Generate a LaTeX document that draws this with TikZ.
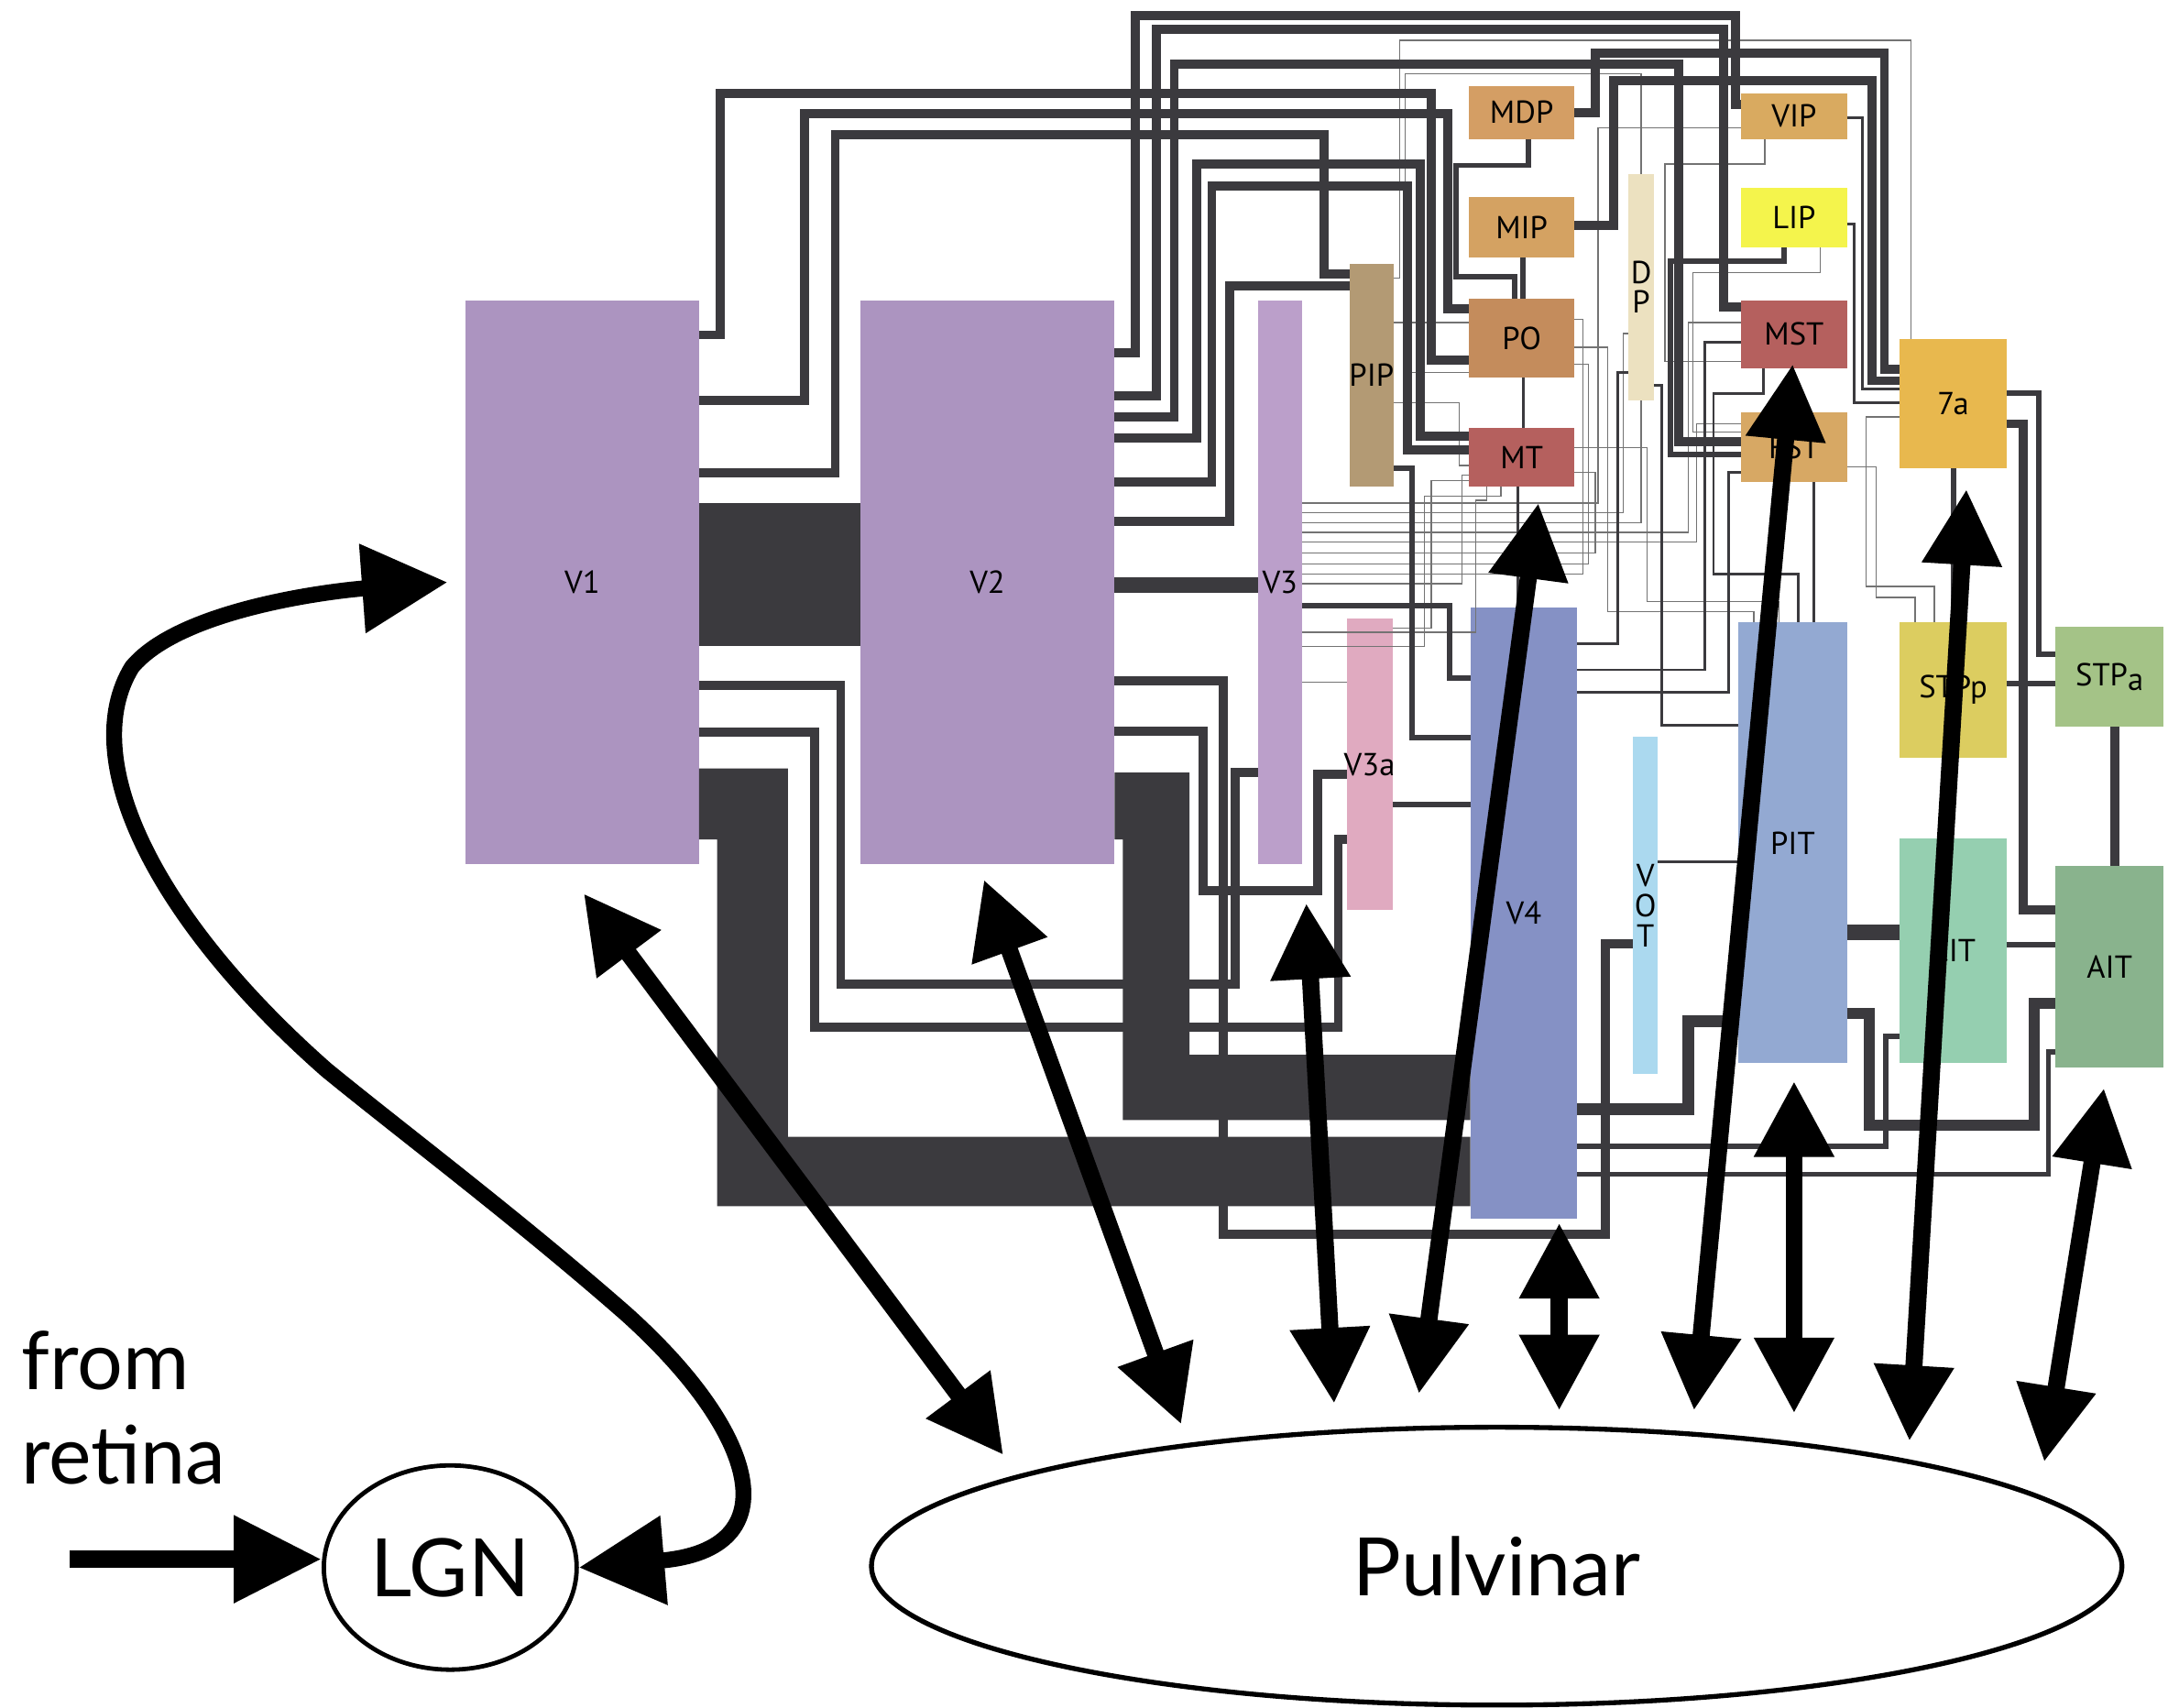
\documentclass[tikz,border=0pt]{standalone}
\usepackage{fontspec}
\setmainfont{PT Sans}
\newfontfamily\gill{Lato}
\usetikzlibrary{shapes.geometric,arrows.meta}

\definecolor{wire}{HTML}{3B3A3E}
\definecolor{cV1}{HTML}{AC94C0}
\definecolor{cV3}{HTML}{BB9FCA}
\definecolor{cPIP}{HTML}{B39A74}
\definecolor{cV3a}{HTML}{E0AAC0}
\definecolor{cMDP}{HTML}{D49E64}
\definecolor{cMIP}{HTML}{D4A262}
\definecolor{cPO}{HTML}{C48C5C}
\definecolor{cMT}{HTML}{B5605E}
\definecolor{cDP}{HTML}{ECE1C0}
\definecolor{cVIP}{HTML}{D9AA60}
\definecolor{cLIP}{HTML}{F4F44C}
\definecolor{cFST}{HTML}{D7A864}
\definecolor{c7a}{HTML}{E8B84E}
\definecolor{cV4}{HTML}{8591C5}
\definecolor{cVOT}{HTML}{ABD9EF}
\definecolor{cPIT}{HTML}{93A9D2}
\definecolor{cSTPp}{HTML}{DCCD60}
\definecolor{cSTPa}{HTML}{A4C387}
\definecolor{cCIT}{HTML}{95CFB0}
\definecolor{cAIT}{HTML}{89B38D}

\newcommand{\lbl}[1]{\makebox[0pt]{#1}}

\begin{document}
\begin{tikzpicture}[x=0.02cm,y=-0.02cm,
  area/.style={inner sep=0pt,outer sep=0pt,font=\fontsize{13}{13.5}\selectfont},
  band/.style={line width=6.5pt,wire},
  thk/.style={line width=3.7pt,wire,line join=miter},
  mid/.style={line width=2.2pt,wire,line join=miter},
  thn/.style={line width=1.1pt,wire,line join=miter},
  hair/.style={line width=0.5pt,black!55},
  pv/.style={line width=7pt,>={Triangle[length=31pt,width=31pt]},<->},
  lgn/.style={line width=6.5pt,>={Triangle[length=35pt,width=35pt]},<->},
  ret/.style={line width=7.4pt,>={Triangle[length=36pt,width=34pt]},->},
  big/.style={font=\gill\fontsize{33}{38}\selectfont}]
\useasboundingbox (0,0) rectangle (1568,1229);

\node[area,fill=cV1,minimum width=3.36cm,minimum height=8.12cm] (V1) at (419,419) {V1};
\node[area,fill=cV1,minimum width=3.66cm,minimum height=8.12cm] (V2) at (710.5,419) {V2};
\node[area,fill=cV3,minimum width=0.64cm,minimum height=8.12cm] (V3) at (921,419) {\lbl{V3}};
\node[area,fill=cPIP,minimum width=0.64cm,minimum height=3.2cm] (PIP) at (987,270) {\lbl{PIP}};
\node[area,fill=cV3a,minimum width=0.66cm,minimum height=4.2cm] (V3a) at (985.5,550) {\lbl{V3a}};
\node[area,fill=cMDP,minimum width=1.52cm,minimum height=0.76cm] (MDP) at (1095,81) {MDP};
\node[area,fill=cMIP,minimum width=1.52cm,minimum height=0.86cm] (MIP) at (1095,163.5) {MIP};
\node[area,fill=cPO,minimum width=1.52cm,minimum height=1.14cm] (PO) at (1095,243.5) {PO};
\node[area,fill=cMT,minimum width=1.52cm,minimum height=0.84cm] (MT) at (1095,329) {MT};
\node[area,fill=cDP,minimum width=0.36cm,minimum height=3.26cm] (DP) at (1181,206.5) {\lbl{\shortstack{D\\P}}};
\node[area,fill=cVIP,minimum width=1.52cm,minimum height=0.66cm] (VIP) at (1291,83.5) {VIP};
\node[area,fill=cLIP,minimum width=1.52cm,minimum height=0.86cm] (LIP) at (1291,156.5) {LIP};
\node[area,fill=cMT,minimum width=1.52cm,minimum height=0.98cm] (MST) at (1291,240.5) {MST};
\node[area,fill=cFST,minimum width=1.52cm,minimum height=1cm] (FST) at (1291,322) {FST};
\node[area,fill=c7a,minimum width=1.54cm,minimum height=1.86cm] (a7) at (1405.5,290.5) {7a};
\node[area,fill=cV4,minimum width=1.54cm,minimum height=8.8cm] (V4) at (1096.5,657) {V4};
\node[area,fill=cVOT,minimum width=0.36cm,minimum height=4.86cm] (VOT) at (1184,651.5) {\lbl{\shortstack{V\\O\\T}}};
\node[area,fill=cPIT,minimum width=1.56cm,minimum height=6.34cm] (PIT) at (1290,606.5) {PIT};
\node[area,fill=cSTPp,minimum width=1.54cm,minimum height=1.94cm] (STPp) at (1405.5,496.5) {STPp};
\node[area,fill=cSTPa,minimum width=1.56cm,minimum height=1.44cm] (STPa) at (1518,487) {STP\raisebox{-0.3ex}{a}};
\node[area,fill=cCIT,minimum width=1.54cm,minimum height=3.24cm] (CIT) at (1405.5,684) {CIT};
\node[area,fill=cAIT,minimum width=1.56cm,minimum height=2.9cm] (AIT) at (1518,695.5) {AIT};

% fine mesh
\draw[hair] (V3.east|-0,362) -| (1150,92) -- (VIP.west|-0,92);
\draw[hair] (V3.east|-0,369) -| (1168,240) -- (DP.west|-0,240);
\draw[hair] (V3.east|-0,376) -| (DP.south);
\draw[hair] (V3.east|-0,383) -| (1215,232) -- (MST.west|-0,232);
\draw[hair] (V3.east|-0,390) -| (1221,305) -- (FST.west|-0,305);
\draw[hair] (V3.east|-0,398) -| (1148,340) -- (MT.east|-0,340);
\draw[hair] (V3.east|-0,406) -| (1143,262) -- (PO.east|-0,262);
\draw[hair] (V3.east|-0,413) -| (1139,230) -- (PO.east|-0,230);
\draw[hair] (V3.east|-0,420) -| (1052,342) -- (MT.west|-0,342);
\draw[hair] (V3.east|-0,455) -| (1062,360) -| (MT.south -| 1070,0);
\draw[hair] (V3.east|-0,465) -| (1025,357) -| (MT.south -| 1080,0);
\draw[hair] (V3a.east|-0,452) -| (1030,346) -- (MT.west|-0,346);
\draw[hair] (V3.east|-0,491) -- (V3a.west|-0,491);
\draw[hair] (PO.east|-0,250) -| (1157,440) -| (PIT.north -| 1262,0);
\draw[hair] (MT.east|-0,322) -| (1185,433) -| (PIT.north -| 1280,0);
\draw[hair] (PIP.east|-0,200) -| (1007,29) -| (a7.north -| 1375,0);
\draw[hair] (PO.west|-0,268) -| (1011,53) -| (DP.north);
\draw[hair] (VIP.south -| 1270,0) |- (1198,118) |- (MST.west|-0,260);
\draw[hair] (LIP.south -| 1310,0) |- (1218,196) |- (FST.west|-0,311);
\draw[hair] (a7.west|-0,300) -| (1343,422) -| (STPp.north -| 1392,0);
\draw[hair] (FST.east|-0,336) -| (1350,430) -| (STPp.north -| 1378,0);
\draw[hair] (PIP.east|-0,232) -- (PO.west|-0,232);
\draw[hair] (PIP.east|-0,290) -| (1050,335) -- (MT.west|-0,335);

% heavy bands
\fill[wire] (V1.east|-0,362) rectangle (V2.west|-0,465);
\fill[wire] (V1.east|-0,553) -| (567,818) -- (V4.west|-0,818) -- (V4.west|-0,868) -| (516,604) -- (V1.east|-0,604) -- cycle;
\fill[wire] (V2.east|-0,556) -| (856,759) -- (V4.west|-0,759) -- (V4.west|-0,806) -| (808,604) -- (V2.east|-0,604) -- cycle;
\draw[band] (V2.east|-0,421) -- (V3.west|-0,421);

% long routes from V1 and V2
\draw[thk] (V1.east|-0,241) -| (518,67) -| (1030,259) -- (PO.west|-0,259);
\draw[thk] (V1.east|-0,288) -| (579,82) -| (1042,222) -- (PO.west|-0,222);
\draw[thk] (V1.east|-0,340) -| (601,97) -| (953,197) -- (PIP.west|-0,197);
\draw[thk] (V2.east|-0,254) -| (817,11) -| (1249,75) -- (VIP.west|-0,75);
\draw[thk] (V2.east|-0,285) -| (832,21) -| (1240,221) -- (MST.west|-0,221);
\draw[thk] (V2.east|-0,300) -| (845,46) -| (1208,318) -- (FST.west|-0,318);
\draw[thk] (V2.east|-0,315) -| (861,118) -| (1022,314) -- (MT.west|-0,314);
\draw[thk] (V2.east|-0,347) -| (872,134) -| (1013,324) -- (MT.west|-0,324);
\draw[thk] (V2.east|-0,375) -| (885,206) -- (PIP.west|-0,206);
\draw[thk] (V1.east|-0,493) -| (605,708) -| (889,556) -- (V3.west|-0,556);
\draw[thk] (V1.east|-0,527) -| (586,739) -| (963,604) -- (V3a.west|-0,604);
\draw[thk] (V2.east|-0,490) -| (880,888) -| (1155,679) -- (VOT.west|-0,679);
\draw[thk] (V2.east|-0,526) -| (866,641) -| (948,557) -- (V3a.west|-0,557);

% dorsal areas
\draw[thk] (MDP.east|-0,81) -| (1148,38) -| (1356,266) -- (a7.west|-0,266);
\draw[thk] (MIP.east|-0,162) -| (1161,58) -| (1347,274) -- (a7.west|-0,274);
\draw[mid] (MDP.south -| 1100,0) |- (1048,119) |- (1090,199) -- (PO.north -| 1090,0);
\draw[mid] (MIP.south -| 1096,0) -- (PO.north -| 1096,0);
\draw[thn] (PO.south -| 1096,0) -- (MT.north -| 1096,0);
\draw[thn] (MT.south -| 1092,0) -- (V4.north -| 1092,0);
\draw[mid] (LIP.south -| 1284,0) |- (1202,188) |- (FST.west|-0,327);
\draw[thn] (VIP.east|-0,85) -| (1340,280) -- (a7.west|-0,280);
\draw[thn] (LIP.east|-0,161) -| (1334,290) -- (a7.west|-0,290);
\draw[thn] (MST.south -| 1269,0) |- (1233,283) |- (1294,413) -- (PIT.north -| 1294,0);
\draw[thn] (FST.south -| 1305,0) -- (PIT.north -| 1305,0);
\draw[thn] (DP.east|-0,277) -| (1196,522) -- (PIT.west|-0,522);
\draw[thn] (DP.west|-0,268) -| (1164,463) -- (V4.east|-0,463);
\draw[thn] (V4.east|-0,482) -| (1227,246) -- (MST.west|-0,246);
\draw[thn] (V4.east|-0,498) -| (1244,340) -- (FST.west|-0,340);
\draw[mid] (PIP.east|-0,337) -| (1016,531) -- (V4.west|-0,531);
\draw[mid] (V3.east|-0,436) -| (1043,488) -- (V4.west|-0,488);
\draw[mid] (V3a.east|-0,579) -- (V4.west|-0,579);

% ventral areas
\draw[thn] (VOT.east|-0,620) -- (PIT.west|-0,620);
\draw[wire,line width=5pt,line join=miter] (V4.east|-0,798) -| (1215,735) -- (PIT.west|-0,735);
\draw[wire,line width=6.5pt] (PIT.east|-0,671) -- (CIT.west|-0,671);
\draw[wire,line width=4.5pt,line join=miter] (PIT.east|-0,729) -| (1345,810) -| (1464,722) -- (AIT.west|-0,722);
\draw[mid] (CIT.west|-0,746) -| (1357,825) -- (V4.east|-0,825);
\draw[mid] (AIT.west|-0,757) -| (1474,845) -- (V4.east|-0,845);
\draw[mid] (CIT.east|-0,680) -- (AIT.west|-0,680);
\draw[thk] (a7.east|-0,305) -| (1456,655) -- (AIT.west|-0,655);
\draw[mid] (a7.east|-0,283) -| (1467,471) -- (STPa.west|-0,471);
\draw[mid] (STPp.east|-0,492) -- (STPa.west|-0,492);
\draw[thk] (STPa.south -| 1522,0) -- (AIT.north -| 1522,0);
\draw[mid] (a7.south -| 1406,0) -- (STPp.north -| 1406,0);

% thalamus
\node[big,draw,ellipse,line width=2pt,minimum width=18cm,minimum height=4cm,inner sep=0pt] (Pulv) at (1077,1127) {Pulvinar};
\node[big,draw,ellipse,line width=1.8pt,minimum width=3.64cm,minimum height=2.94cm,inner sep=0pt] (LGN) at (324,1128) {LGN};
\node[big,anchor=base west,inner sep=0pt] (from) at (15,1000) {from};
\node[big,anchor=base west,inner sep=0pt] (retina) at (15,1068) {retina};

\coordinate (tV1) at (420,643);   \coordinate (bV1) at (722,1047);
\coordinate (tV2) at (708,633);   \coordinate (bV2) at (850,1025);
\coordinate (tV3) at (940,650);   \coordinate (bV3) at (960,1010);
\coordinate (tMT) at (1107,362);  \coordinate (bMT) at (1021,1003);
\coordinate (tV4) at (1122,880);  \coordinate (bV4) at (1122,1015);
\coordinate (tMST) at (1290,262); \coordinate (bMST) at (1219,1015);
\coordinate (tPIT) at (1291,778); \coordinate (bPIT) at (1291,1017);
\coordinate (t7a) at (1415,352);  \coordinate (b7a) at (1374,1037);
\coordinate (tAIT) at (1514,783); \coordinate (bAIT) at (1471,1052);
\coordinate (eye) at (50,1122);

\foreach \n in {V1,V2,V3,MT,V4,MST,PIT,7a,AIT}
  \draw[pv] (t\n) -- (b\n);

\draw[lgn] (LGN.east) .. controls (570,1115) and (545,1030) .. (450,945)
  .. controls (370,875) and (290,815) .. (235,770)
  .. controls (110,660) and (55,545) .. (95,480)
  .. controls (130,438) and (240,425) .. ([xshift=-0.26cm]V1.west);
\draw[ret] (eye) -- (LGN.west|-0,1122);
\end{tikzpicture}
\end{document}
